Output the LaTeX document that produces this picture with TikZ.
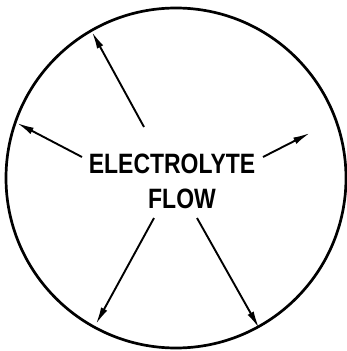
\documentclass[tikz,border=0pt]{standalone}
\usepackage{fontspec}
\setmainfont{Liberation Sans}
\usetikzlibrary{arrows.meta}

\begin{document}
\begin{tikzpicture}[x=1pt,y=-1pt,>={Latex[length=17pt,width=7pt]}, line width=1.9pt,
    every node/.style={font=\fontsize{28}{30}\selectfont\bfseries}]
                \useasboundingbox (0,0) rectangle (347,351);
                \node[draw,circle,line width=2.7pt,minimum size=340pt,inner sep=0pt] (rim) at (176,178) {};

                \node (elec) at (172,164) {\scalebox{0.82}[1]{ELECTROLYTE}};
                \node (flow) at (182,199) {\scalebox{0.82}[1]{FLOW}};

                \coordinate (t1) at (144,127);
                \coordinate (t2) at (82,157);
                \coordinate (t3) at (263,157);
                \coordinate (t4) at (154,218);
                \coordinate (t5) at (197,218);

                \coordinate (h1) at (92,32);
                \coordinate (h2) at (17,123);
                \coordinate (h3) at (310,133);
                \coordinate (h4) at (96,324);
                \coordinate (h5) at (259,328);

                \draw[->] (t1)--(h1);
                \draw[->] (t2)--(h2);
                \draw[->] (t3)--(h3);
                \draw[->] (t4)--(h4);
                \draw[->] (t5)--(h5);
            \end{tikzpicture}
\end{document}
